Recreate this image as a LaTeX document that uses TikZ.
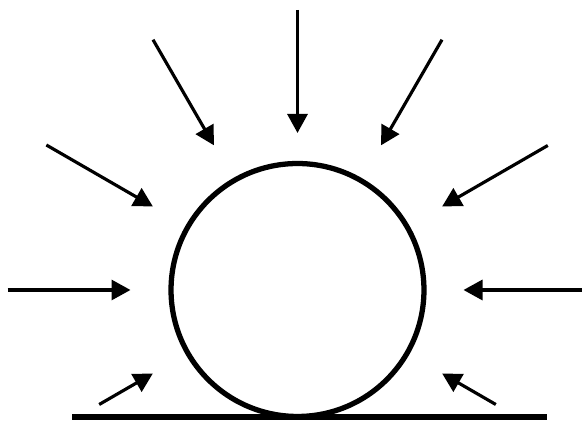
\documentclass[tikz,border=0pt]{standalone}
\usepackage{tikz}
\usetikzlibrary{arrows.meta, calc}
\tikzset{
  push/.style={-{Triangle[length=0.38cm, width=0.4cm]}, line width=1.8pt},
  ground/.style={line width=3.4pt},
}
\begin{document}
\begin{tikzpicture}[x=0.02cm, y=0.02cm]
    \useasboundingbox (0,0) rectangle (582,421);
    \node (ball) [circle, draw, line width=3pt, minimum size=5.06cm, inner sep=0pt] at (297.5,131) {};
    
    \coordinate (gl) at (72,4);
    \coordinate (gr) at (547,4);
    \draw[ground] (gl) -- (gr);
    
    \foreach \ang/\rin/\rout in {0/166/290, 30/167/289, 60/167/289, 90/157/280, 120/167/289, 150/167/290, 180/167/290, 210/167/229, 330/167/229} {
        \coordinate (s\ang) at ($(ball.center)+(\ang:\rout)$);
        \coordinate (t\ang) at ($(ball.center)+(\ang:\rin)$);
        \draw[push] (s\ang) -- (t\ang);
    }
\end{tikzpicture}
\end{document}
